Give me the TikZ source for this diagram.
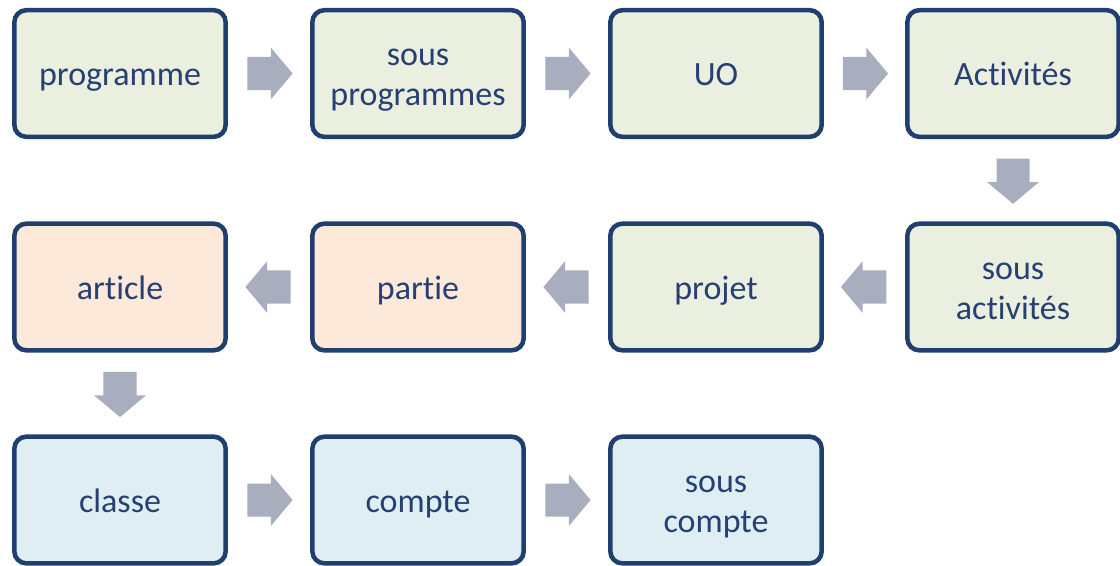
\documentclass[tikz,border=0pt]{standalone}
\usepackage{fontspec}
\setmainfont{Carlito}[Ligatures=NoCommon]
\usetikzlibrary{shapes.arrows,calc}

\definecolor{boxline}{RGB}{31,63,111}
\definecolor{boxtext}{RGB}{38,64,115}
\definecolor{greenfill}{RGB}{235,239,223}
\definecolor{peachfill}{RGB}{253,233,217}
\definecolor{bluefill}{RGB}{222,238,243}
\definecolor{arrowgrey}{RGB}{169,174,190}

% struts that keep the text centred in the boxes
\newcommand{\topstrut}{\rule{0pt}{24pt}}
\newcommand{\botstrut}{\rule[-6pt]{0pt}{0pt}}

\tikzset{every picture/.style={line width=0.75pt}}
\tikzset{
  stepbox/.style={draw=boxline, line width=3.4pt, rounded corners=9pt, minimum width=158.5pt, minimum height=95pt, align=center, text=boxtext, font=\fontsize{25.5}{30}\selectfont, inner sep=0pt},
  greenbox/.style={stepbox, fill=greenfill},
  peachbox/.style={stepbox, fill=peachfill},
  bluebox/.style={stepbox, fill=bluefill},
  blockarrow/.style={single arrow, fill=arrowgrey, draw=none, inner xsep=0pt, inner ysep=12pt, minimum width=39pt, minimum height=34pt, single arrow tip angle=100, xshift=-4.5pt}
}

\begin{document}
\begin{tikzpicture}[x=0.75pt,y=0.75pt,yscale=-1,xscale=1]
\useasboundingbox (0,0) rectangle (1120,565);

% first row
\node [greenbox] (prog) at (120,73.5) {\topstrut programme\botstrut};
\node [greenbox] (sprog) at (418,73.5) {\topstrut sous\\programmes\botstrut};
\node [greenbox] (uo) at (716,73.5) {\topstrut UO\botstrut};
\node [greenbox] (act) at (1013,73.5) {\topstrut Activités\botstrut};
% second row
\node [peachbox] (art) at (120,287) {\topstrut article\botstrut};
\node [peachbox] (part) at (418,287) {\topstrut partie\botstrut};
\node [greenbox] (proj) at (716,287) {\topstrut projet\botstrut};
\node [greenbox] (sact) at (1013,287) {\topstrut sous\\activités\botstrut};
% third row
\node [bluebox] (cls) at (120,500) {\topstrut classe\botstrut};
\node [bluebox] (cpt) at (418,500) {\topstrut compte\botstrut};
\node [bluebox] (scpt) at (716,500) {\topstrut sous\\compte\botstrut};

% block arrows
\node [blockarrow] at ($(prog.east)!0.5!(sprog.west)$) {};
\node [blockarrow] at ($(sprog.east)!0.5!(uo.west)$) {};
\node [blockarrow] at ($(uo.east)!0.5!(act.west)$) {};
\node [rotate=-90, blockarrow] at ($(act.south)!0.5!(sact.north)$) {};
\node [rotate=180, blockarrow] at ($(sact.west)!0.5!(proj.east)$) {};
\node [rotate=180, blockarrow] at ($(proj.west)!0.5!(part.east)$) {};
\node [rotate=180, blockarrow] at ($(part.west)!0.5!(art.east)$) {};
\node [rotate=-90, blockarrow] at ($(art.south)!0.5!(cls.north)$) {};
\node [blockarrow] at ($(cls.east)!0.5!(cpt.west)$) {};
\node [blockarrow] at ($(cpt.east)!0.5!(scpt.west)$) {};

\end{tikzpicture}
\end{document}
